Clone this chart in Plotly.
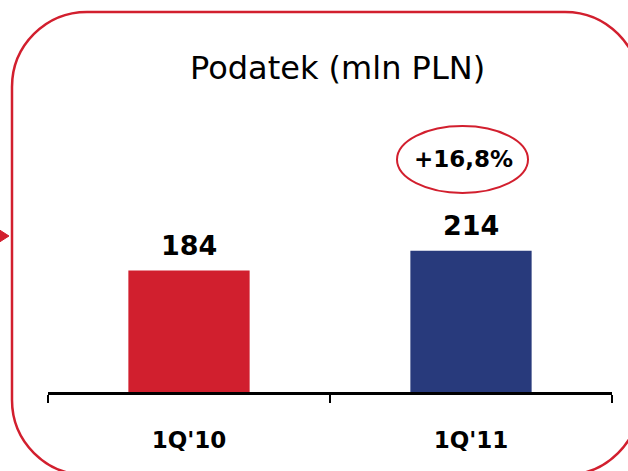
import plotly.graph_objects as go

# data
quarters = ["1Q'10", "1Q'11"]
tax = [184, 214]
bar_colors = ["#D11F2E", "#283A7C"]
change_label = "+16,8%"
title_text = "Podatek (mln PLN)"

W, H = 628, 471
L, R, T, B = 48, 612, 128, 392


def px(x):
    return (x - L) / (R - L)


def py(y):
    return (B - y) / (B - T)


def rounded_rect(x0, y0, x1, y1, r):
    k = 0.5523 * r
    pts = [
        ("M", [(x0 + r, y0)]),
        ("L", [(x1 - r, y0)]),
        ("C", [(x1 - r + k, y0), (x1, y0 + r - k), (x1, y0 + r)]),
        ("L", [(x1, y1 - r)]),
        ("C", [(x1, y1 - r + k), (x1 - r + k, y1), (x1 - r, y1)]),
        ("L", [(x0 + r, y1)]),
        ("C", [(x0 + r - k, y1), (x0, y1 - r + k), (x0, y1 - r)]),
        ("L", [(x0, y0 + r)]),
        ("C", [(x0, y0 + r - k), (x0 + r - k, y0), (x0 + r, y0)]),
    ]
    s = ""
    for cmd, ps in pts:
        s += cmd + " " + " ".join(f"{px(a):.5f},{py(b):.5f}" for a, b in ps) + " "
    return s + "Z"


fig = go.Figure()
fig.add_trace(go.Bar(
    x=quarters, y=tax, marker_color=bar_colors, marker_line_width=0,
    width=0.43, hoverinfo="skip",
))

for q, v in zip(quarters, tax):
    fig.add_annotation(x=q, y=v, text=f"<b>{v}</b>", showarrow=False,
                       yshift=25, xanchor="center", yanchor="middle",
                       font=dict(family="DejaVu Sans", size=27, color="black"))

red = "#D21F2E"
fig.add_shape(type="path", xref="paper", yref="paper",
              path=rounded_rect(12, 12, 640, 475, 75),
              line=dict(color=red, width=2.5), layer="below")
fig.add_shape(type="path", xref="paper", yref="paper",
              path=f"M {px(-2):.5f},{py(229):.5f} L {px(9):.5f},{py(236):.5f} L {px(-2):.5f},{py(243):.5f} Z",
              fillcolor=red, line=dict(color=red, width=1))
fig.add_shape(type="circle", xref="paper", yref="paper",
              x0=px(397), x1=px(528), y0=py(193), y1=py(126),
              line=dict(color=red, width=2))
fig.add_annotation(xref="paper", yref="paper", x=px(463), y=py(159),
                   text=f"<b>{change_label}</b>", showarrow=False,
                   xanchor="center", yanchor="middle",
                   font=dict(family="DejaVu Sans", size=23, color="black"))
fig.add_annotation(xref="paper", yref="paper", x=px(337), y=py(68),
                   text=title_text, showarrow=False,
                   xanchor="center", yanchor="middle",
                   font=dict(family="DejaVu Sans", size=32, color="black"))

fig.update_layout(
    width=W, height=H,
    margin=dict(l=L, r=W - R, t=T, b=H - B),
    paper_bgcolor="white", plot_bgcolor="white",
    showlegend=False,
    xaxis=dict(showline=True, linecolor="black", linewidth=2.5,
               ticks="outside", tickson="boundaries", ticklen=8,
               tickwidth=2, tickcolor="black", ticklabelstandoff=26,
               tickfont=dict(family="DejaVu Sans", size=23, color="black"),
               showgrid=False, fixedrange=True),
    yaxis=dict(range=[0, 400], visible=False, showgrid=False, fixedrange=True),
)
fig.update_xaxes(ticktext=[f"<b>{q}</b>" for q in quarters], tickvals=quarters)

fig.write_html("out.html", config={"displayModeBar": False},
               post_script="document.body.style.margin='0';")
